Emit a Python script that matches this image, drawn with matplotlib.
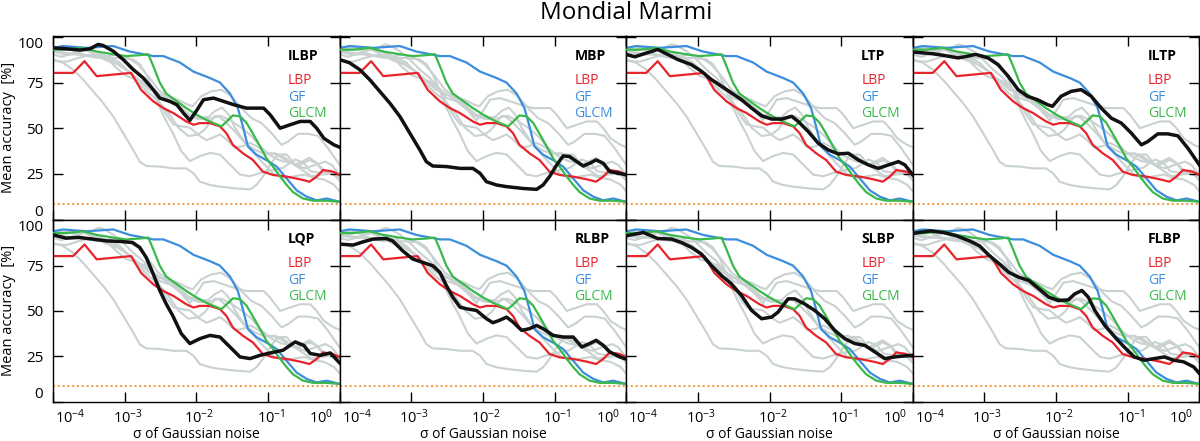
import matplotlib
matplotlib.use('Agg')
import matplotlib.pyplot as plt
import matplotlib.transforms as mtransforms
import numpy as np
from matplotlib.ticker import NullLocator

plt.rcParams['font.family'] = ['Open Sans', 'DejaVu Sans']
plt.rcParams['mathtext.fontset'] = 'custom'
plt.rcParams['mathtext.rm'] = 'Open Sans'
plt.rcParams['mathtext.it'] = 'Open Sans:italic'
plt.rcParams['mathtext.bf'] = 'Open Sans:bold'

# x values are log10(sigma), y values are mean accuracy in %
lbp_x = [-4, -3.72, -3.56, -3.39, -2.91, -2.77, -2.60, -2.46, -2.32, -2.14, -2.04, -1.95, -1.81, -1.67,
         -1.58, -1.49, -1.35, -1.21, -1.07, -0.93, -0.74, -0.55, -0.42, -0.32, -0.23, -0.09, 0]
lbp_y = [80.3, 80.3, 86.7, 78.5, 80.3, 71, 64.7, 61, 58.3, 53.7, 51.9, 52.8, 52.8, 51,
         47.3, 40.9, 36.3, 32.6, 26.2, 24.4, 23.5, 22, 20.7, 23.5, 27.1, 26.2, 24.4]

gf_x = [-4, -3.86, -3.53, -3.16, -2.93, -2.60, -2.46, -2.23, -2.04, -1.81, -1.67, -1.53, -1.42, -1.35,
        -1.28, -1.16, -1.02, -0.88, -0.74, -0.60, -0.46, -0.32, -0.18, 0]
gf_y = [94, 95, 94, 95, 92, 89.5, 89.5, 86, 81, 77.5, 75, 69, 61, 51,
        40, 35.5, 32.5, 29, 22.5, 16, 12.5, 10.5, 11.5, 9.7]

glcm_x = [-4, -3.81, -3.58, -3.39, -3.16, -2.98, -2.79, -2.67, -2.60, -2.51, -2.42, -2.28, -2.14, -2.00,
          -1.86, -1.77, -1.65, -1.58, -1.49, -1.39, -1.30, -1.21, -1.11, -1.02, -0.93, -0.83, -0.74,
          -0.65, -0.51, -0.37, -0.18, 0]
glcm_y = [93, 93, 94, 92, 90.5, 89.5, 90, 90.5, 84, 75, 69, 65, 61, 57.5,
          54.5, 53, 51, 53.5, 57, 56.5, 53, 47, 40, 33.5, 29, 23.5, 19,
          15, 11.5, 10.3, 10.3, 9.7]

ilbp_x = [-4, -3.81, -3.62, -3.48, -3.37, -3.30, -3.16, -3.02, -2.88, -2.74, -2.60, -2.51, -2.37, -2.27,
          -2.18, -2.09, -1.99, -1.90, -1.76, -1.62, -1.48, -1.30, -1.06, -0.97, -0.83, -0.69, -0.55,
          -0.41, -0.32, -0.22, -0.08, 0]
ilbp_y = [94, 93.5, 92.8, 93.5, 95.9, 95.3, 92.2, 87.6, 82.1, 77.5, 71.1, 66.5, 64.7, 62.9,
          58.3, 54.3, 60, 65.6, 66.5, 64.7, 62.9, 61, 61, 57.4, 50, 51.9, 53.7,
          53.7, 50, 44.5, 40.9, 39.6]

mbp_x = [-4, -3.86, -3.72, -3.58, -3.44, -3.30, -3.16, -3.02, -2.88, -2.79, -2.70, -2.51, -2.32, -2.14,
         -2.04, -1.95, -1.81, -1.67, -1.44, -1.25, -1.16, -1.07, -0.97, -0.88, -0.79, -0.69, -0.60,
         -0.51, -0.42, -0.32, -0.23, -0.09, 0]
mbp_y = [87.6, 85.8, 82.1, 76.6, 70.2, 63.8, 56.5, 47.3, 38.1, 31.7, 29.3, 29, 28, 28,
         25.3, 20.7, 18.9, 18, 17, 16.5, 18.9, 23.5, 29.9, 34.8, 34.5, 31.7, 29.3,
         30.8, 32.6, 30.8, 26.2, 25.3, 24.4]

ltp_x = [-4, -3.88, -3.74, -3.56, -3.42, -3.28, -3.09, -2.95, -2.81, -2.67, -2.53, -2.39, -2.25, -2.11,
         -1.97, -1.83, -1.69, -1.60, -1.46, -1.32, -1.18, -1.04, -0.90, -0.76, -0.62, -0.48, -0.34,
         -0.20, -0.11, 0]
ltp_y = [90.4, 89.1, 90.9, 93.1, 90.4, 87.6, 84.8, 81.2, 76.6, 73, 69.3, 65.6, 61, 56.8,
         55, 55, 56.5, 53.7, 48.2, 41.8, 38.1, 35.9, 36.3, 32.6, 29.9, 28, 29.9,
         31.7, 29.9, 24.4]

iltp_x = [-4, -3.74, -3.56, -3.37, -3.28, -3.12, -2.95, -2.81, -2.67, -2.53, -2.40, -2.26, -2.12, -2.05,
          -1.93, -1.79, -1.65, -1.51, -1.37, -1.23, -1.09, -0.95, -0.81, -0.72, -0.58, -0.44, -0.30,
          -0.16, 0]
iltp_y = [91.7, 90.9, 89.8, 88.5, 89.1, 90.4, 88.5, 84.8, 78.5, 71.1, 67.5, 65.6, 62.9, 62,
          67.5, 70.2, 71.1, 67.5, 61, 55.5, 52.8, 47.3, 40.9, 42.7, 46.9, 46.9, 45.8,
          39, 29.9]

lqp_x = [-4, -3.82, -3.64, -3.45, -3.26, -3.07, -2.89, -2.79, -2.70, -2.61, -2.51, -2.42, -2.33, -2.21,
         -2.09, -1.95, -1.81, -1.67, -1.53, -1.39, -1.25, -1.11, -0.97, -0.79, -0.62, -0.50, -0.41,
         -0.27, -0.13, 0]
lqp_y = [92, 90.2, 90.6, 89.7, 88.7, 88.4, 87.8, 85.1, 79.6, 71.3, 61.3, 53.9, 47.5, 37.5,
         32, 34.7, 36.5, 35.6, 30.1, 24.6, 23.7, 25.5, 26.8, 28.3, 32.9, 31, 26.5,
         25.5, 26.8, 21.3]

rlbp_x = [-4, -3.81, -3.67, -3.53, -3.35, -3.26, -3.12, -2.98, -2.84, -2.70, -2.60, -2.51, -2.42, -2.32,
          -2.23, -2.09, -1.95, -1.86, -1.77, -1.67, -1.58, -1.46, -1.35, -1.25, -1.16, -1.02, -0.88,
          -0.74, -0.62, -0.51, -0.42, -0.32, -0.23, -0.09, 0]
rlbp_y = [86.9, 86.4, 88.2, 89.7, 90, 88.7, 83.2, 78.7, 76.8, 75, 71.3, 64, 57.6, 52.1,
          51.2, 50.3, 45.7, 43.5, 44.8, 46.6, 43.9, 39.3, 40.2, 42, 40.2, 36.5, 35.6,
          35.6, 30.1, 32, 33.8, 31, 27.4, 24.6, 23.4]

slbp_x = [-4, -3.88, -3.76, -3.65, -3.56, -3.37, -3.23, -3.09, -2.95, -2.81, -2.67, -2.53, -2.39, -2.25,
          -2.11, -1.97, -1.88, -1.74, -1.65, -1.51, -1.37, -1.23, -1.09, -0.95, -0.81, -0.67, -0.53,
          -0.39, -0.25, -0.11, 0]
slbp_y = [91.5, 92.4, 93.3, 91.5, 90, 89.7, 87.8, 85.1, 81.4, 75, 69.5, 64.9, 58.5, 50.3,
          45.7, 46.6, 49.4, 56.7, 56.7, 53.9, 50.3, 45.7, 39.3, 34.7, 32, 31, 27.4,
          23.7, 24.6, 25.2, 25.5]

flbp_x = [-4, -3.76, -3.57, -3.39, -3.21, -3.07, -2.93, -2.79, -2.66, -2.52, -2.38, -2.24, -2.10, -1.97,
          -1.83, -1.74, -1.64, -1.55, -1.46, -1.32, -1.18, -1.05, -0.91, -0.77, -0.63, -0.49, -0.36,
          -0.22, -0.08, 0]
flbp_y = [92.8, 94.2, 93.3, 91.5, 88.7, 86, 80.5, 75.9, 71.3, 68.6, 66.8, 62.2, 57.6, 55.8,
          56.1, 59.4, 61.3, 57.6, 50.3, 42, 35.6, 30.1, 24.6, 22.8, 23.7, 24.6, 22.8,
          21.9, 19.1, 15.5]

chance = 100 / 12

x_ticks = [1e-4, 1e-3, 1e-2, 1e-1, 1]
x_ticklabels = [r'$10^{-4}$', r'$10^{-3}$', r'$10^{-2}$', r'$10^{-1}$', r'$10^{0}$']
y_ticks = [0, 25, 50, 75, 100]

descriptors = [('ILBP', ilbp_x, ilbp_y), ('MBP', mbp_x, mbp_y), ('LTP', ltp_x, ltp_y),
               ('ILTP', iltp_x, iltp_y), ('LQP', lqp_x, lqp_y), ('RLBP', rlbp_x, rlbp_y),
               ('SLBP', slbp_x, slbp_y), ('FLBP', flbp_x, flbp_y)]

red = '#e8232b'
blue = '#3b8ddd'
green = '#39b94a'
gray = '#c9d1d1'
orange = '#f0a04e'

W, H = 1200, 441
lefts = [53, 339.6, 626.2, 912.8]
pw = 286.6
rows = [(36, 219.5), (219.5, 401.5)]

fig = plt.figure(figsize=(12, 4.41), dpi=100)
fig.text(626 / W, 1 - 13 / H, 'Mondial Marmi', ha='center', va='center', fontsize=17.5)

for i, (name, bx, by) in enumerate(descriptors):
    row, col = divmod(i, 4)
    top, bot = rows[row]
    ax = fig.add_axes([lefts[col] / W, 1 - bot / H, pw / W, (bot - top) / H])

    for _, gx, gy in descriptors:
        ax.plot(10 ** np.array(gx), gy, color=gray, lw=1.5, zorder=1)
    ax.plot(10 ** np.array(gf_x), gf_y, color=blue, lw=1.6, zorder=2)
    ax.plot(10 ** np.array(lbp_x), lbp_y, color=red, lw=1.6, zorder=2)
    ax.plot(10 ** np.array(glcm_x), glcm_y, color=green, lw=1.6, zorder=3)
    ax.axhline(chance, color=orange, ls=(0, (1, 1.3)), lw=1.5, zorder=1)
    ax.plot(10 ** np.array(bx), by, color='#111111', lw=2.5, zorder=5)

    ax.set_xscale('log')
    ax.set_xlim(1e-4, 1)
    ax.set_ylim(0, 100.5)
    ax.set_xticks(x_ticks)
    ax.xaxis.set_minor_locator(NullLocator())
    ax.set_yticks(y_ticks)
    ax.tick_params(direction='in', length=7, width=1, top=True, right=True,
                   labelsize=11, pad=7)
    ax.set_xticklabels([])
    for sp in ax.spines.values():
        sp.set_linewidth(1)

    if col == 0:
        ax.set_yticklabels([str(v) for v in y_ticks])
        labs = ax.get_yticklabels()
        labs[0].set_va('bottom')
        labs[-1].set_va('top')
        fig.text(9 / W, 1 - (top + bot) / 2 / H, 'Mean accuracy  [%]', rotation=90,
                 ha='center', va='center', fontsize=10.5)
    else:
        ax.set_yticklabels([])

    if row == 1:
        base = mtransforms.blended_transform_factory(ax.transData, ax.transAxes)
        for k, (xv, lab) in enumerate(zip(x_ticks, x_ticklabels)):
            if k == 0:
                ha, dx = 'left', 2
            elif k == len(x_ticks) - 1:
                ha, dx = 'right', -6
            else:
                ha, dx = 'center', 3
            tr = mtransforms.offset_copy(base, fig=fig, x=dx, y=-22, units='dots')
            ax.text(xv, 0, lab, transform=tr, ha=ha, va='baseline', fontsize=10.5)
        fig.text((lefts[col] + pw / 2) / W, 1 - 438.5 / H, 'σ of Gaussian noise',
                 ha='center', va='baseline', fontsize=10)

    tx = 0.82
    ax.text(tx, 0.893, name, transform=ax.transAxes, fontsize=10, fontweight='bold',
            color='black', va='center', ha='left')
    ax.text(tx, 0.76, 'LBP', transform=ax.transAxes, fontsize=10, color=red, va='center', ha='left')
    ax.text(tx, 0.665, 'GF', transform=ax.transAxes, fontsize=10, color=blue, va='center', ha='left')
    ax.text(tx, 0.577, 'GLCM', transform=ax.transAxes, fontsize=10,
            color=blue if name == 'MBP' else green, va='center', ha='left')

fig.savefig('out.png', dpi=100)
